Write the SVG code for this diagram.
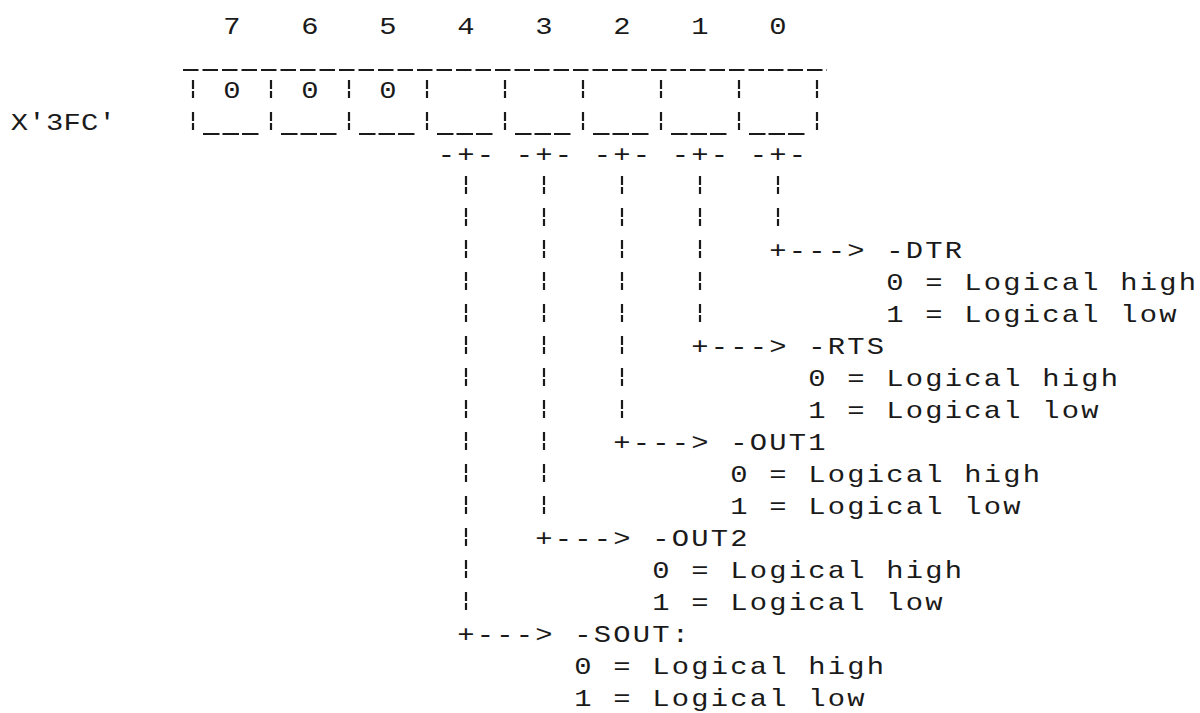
<svg xmlns="http://www.w3.org/2000/svg" width="1200" height="713" viewBox="0 0 1200 713">
<style>
  text { font-family: "Liberation Mono", "DejaVu Sans Mono", monospace; font-size: 24px; fill: #1a1a1a; }
  .c { text-anchor: middle; }
  .t { letter-spacing: 1.85px; }
  .lbl { letter-spacing: 0.2px; }
  .rule { stroke: #1a1a1a; stroke-width: 2; fill: none; }
  .uline { stroke-dasharray: 15.5 4; }
  .cell { stroke-dasharray: 16.5 3; }
  .bar { stroke: #1a1a1a; stroke-width: 2.2; fill: none; stroke-dasharray: 9 2 7 14; }
</style>
<rect width="1200" height="713" fill="#ffffff"/>

<g id="bit-numbers">
  <g transform="scale(1.2 1)">
    <text class="c" x="193.33" y="34">7</text>
    <text class="c" x="258.33" y="34">6</text>
    <text class="c" x="323.33" y="34">5</text>
    <text class="c" x="388.33" y="34">4</text>
    <text class="c" x="453.33" y="34">3</text>
    <text class="c" x="518.33" y="34">2</text>
    <text class="c" x="583.33" y="34">1</text>
    <text class="c" x="648.33" y="34">0</text>
  </g>
</g>

<g id="register">
  <line class="rule uline" x1="183" y1="70" x2="827" y2="70"/>
  <path class="bar" d="M193 80V130M271 80V130M349 80V130M427 80V130M505 80V130M583 80V130M661 80V130M739 80V130M817 80V130"/>
  <path class="rule cell" d="M203 134H261M281 134H339M359 134H417M437 134H495M515 134H573M593 134H651M671 134H729M749 134H807"/>
  <g transform="scale(1.2 1)">
    <text class="lbl" x="9.05" y="130">X'3FC'</text>
    <text class="c" x="193.33" y="98">0</text>
    <text class="c" x="258.33" y="98">0</text>
    <text class="c" x="323.33" y="98">0</text>
  </g>
</g>

<g id="connectors">
  <path class="bar" d="M778 176V226M700 176V322M622 176V418M544 176V514M466 176V610"/>
  <g transform="scale(1.2 1)">
    <text class="t" x="364.88" y="162">-+-</text>
    <text class="t" x="429.88" y="162">-+-</text>
    <text class="t" x="494.88" y="162">-+-</text>
    <text class="t" x="559.88" y="162">-+-</text>
    <text class="t" x="624.88" y="162">-+-</text>
    <text class="t" x="641.13" y="258">+---&gt;</text>
    <text class="t" x="576.13" y="354">+---&gt;</text>
    <text class="t" x="511.13" y="450">+---&gt;</text>
    <text class="t" x="446.13" y="546">+---&gt;</text>
    <text class="t" x="381.13" y="642">+---&gt;</text>
  </g>
</g>

<g id="field-dtr">
  <g transform="scale(1.2 1)">
    <text class="t" x="738.63" y="258">-DTR</text>
    <text class="t" x="738.63" y="290">0 = Logical high</text>
    <text class="t" x="738.63" y="322">1 = Logical low</text>
  </g>
</g>

<g id="field-rts">
  <g transform="scale(1.2 1)">
    <text class="t" x="673.63" y="354">-RTS</text>
    <text class="t" x="673.63" y="386">0 = Logical high</text>
    <text class="t" x="673.63" y="418">1 = Logical low</text>
  </g>
</g>

<g id="field-out1">
  <g transform="scale(1.2 1)">
    <text class="t" x="608.63" y="450">-OUT1</text>
    <text class="t" x="608.63" y="482">0 = Logical high</text>
    <text class="t" x="608.63" y="514">1 = Logical low</text>
  </g>
</g>

<g id="field-out2">
  <g transform="scale(1.2 1)">
    <text class="t" x="543.63" y="546">-OUT2</text>
    <text class="t" x="543.63" y="578">0 = Logical high</text>
    <text class="t" x="543.63" y="610">1 = Logical low</text>
  </g>
</g>

<g id="field-sout">
  <g transform="scale(1.2 1)">
    <text class="t" x="478.63" y="642">-SOUT:</text>
    <text class="t" x="478.63" y="674">0 = Logical high</text>
    <text class="t" x="478.63" y="706">1 = Logical low</text>
  </g>
</g>
</svg>
